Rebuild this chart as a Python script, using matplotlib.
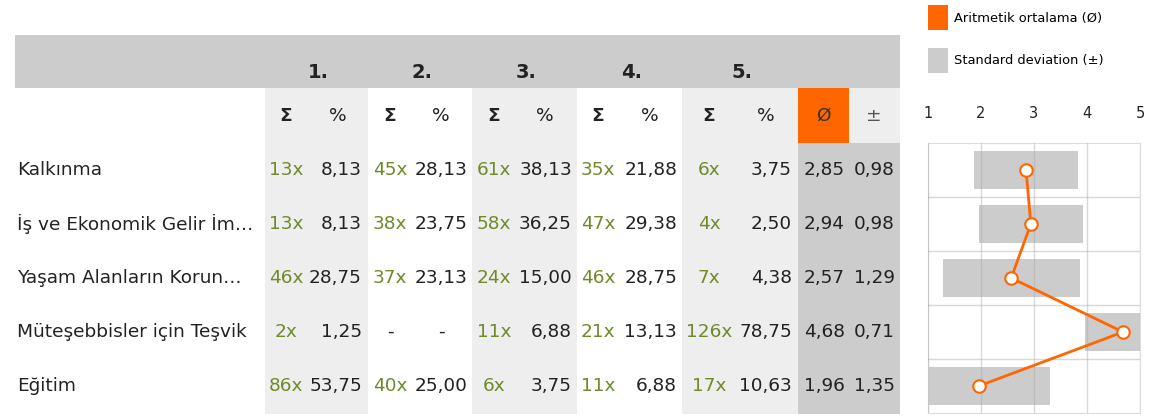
import matplotlib.pyplot as plt
from matplotlib.patches import Rectangle, Patch

# Data
categories = [
    "Kalkınma",
    "İş ve Ekonomik Gelir İm…",
    "Yaşam Alanların Korun…",
    "Müteşebbisler için Teşvik",
    "Eğitim",
]
ranks = ["1.", "2.", "3.", "4.", "5."]
counts = [
    [13, 45, 61, 35, 6],
    [13, 38, 58, 47, 4],
    [46, 37, 24, 46, 7],
    [2, None, 11, 21, 126],
    [86, 40, 6, 11, 17],
]
percents = [
    [8.13, 28.13, 38.13, 21.88, 3.75],
    [8.13, 23.75, 36.25, 29.38, 2.50],
    [28.75, 23.13, 15.00, 28.75, 4.38],
    [1.25, None, 6.88, 13.13, 78.75],
    [53.75, 25.00, 3.75, 6.88, 10.63],
]
means = [2.85, 2.94, 2.57, 4.68, 1.96]
stds = [0.98, 0.98, 1.29, 0.71, 1.35]
scale_ticks = [1, 2, 3, 4, 5]

ORANGE = "#ff6600"
GREEN = "#6f8a2a"
DARK = "#222222"
LIGHT = "#eeeeee"
MID = "#cccccc"

W, H = 1155, 419
fig = plt.figure(figsize=(W / 100, H / 100), dpi=100)
plt.rcParams["font.family"] = "DejaVu Sans"

# table drawn in pixel coordinates
tab = fig.add_axes([0, 0, 1, 1])
tab.set_xlim(0, W)
tab.set_ylim(H, 0)
tab.axis("off")

# layout (pixels)
grp_left = [265, 368, 472, 577, 682]
grp_right = [368, 472, 577, 682, 798]
sum_x = [286, 390, 494, 598, 709]
pct_hdr_x = [338, 441, 545, 650, 766]
pct_right = [362, 467, 572, 677, 792]
row_y0, row_h = 170, 54
table_bottom = 414
fs = 13.3

# header band
tab.add_patch(Rectangle((15, 35), 885, 53, color=MID, lw=0))
for g in range(5):
    cx = (grp_left[g] + grp_right[g]) / 2
    tab.text(cx + 2, 72, ranks[g], ha="center", va="center", fontsize=14,
             fontweight="bold", color=DARK)
    if g % 2 == 0:
        tab.add_patch(Rectangle((grp_left[g], 88), grp_right[g] - grp_left[g],
                                table_bottom - 88, color=LIGHT, lw=0))
    tab.text(sum_x[g], 116, "Σ", ha="center", va="center", fontsize=fs,
             fontweight="bold", color=DARK)
    tab.text(pct_hdr_x[g], 116, "%", ha="center", va="center", fontsize=fs,
             color=DARK)

# mean / std columns
tab.add_patch(Rectangle((798, 88), 51, 55, color=ORANGE, lw=0))
tab.add_patch(Rectangle((849, 88), 51, 55, color=LIGHT, lw=0))
tab.add_patch(Rectangle((798, 143), 102, table_bottom - 143, color=MID, lw=0))
tab.text(823, 116, "Ø", ha="center", va="center", fontsize=fs, color="#333333")
tab.text(874, 116, "±", ha="center", va="center", fontsize=fs, color="#555555")


def fmt(v):
    return f"{v:.2f}".replace(".", ",")


for i, name in enumerate(categories):
    y = row_y0 + i * row_h
    tab.text(17, y, name, ha="left", va="center", fontsize=fs, color=DARK)
    for g in range(5):
        c = counts[i][g]
        p = percents[i][g]
        if c is None:
            tab.text(sum_x[g], y, "-", ha="center", va="center", fontsize=fs, color=DARK)
            tab.text(pct_hdr_x[g], y, "-", ha="center", va="center", fontsize=fs, color=DARK)
            continue
        tab.text(sum_x[g], y, f"{c}x", ha="center", va="center", fontsize=fs, color=GREEN)
        tab.text(pct_right[g], y, fmt(p), ha="right", va="center", fontsize=fs, color=DARK)
    tab.text(845, y, fmt(means[i]), ha="right", va="center", fontsize=fs, color=DARK)
    tab.text(895, y, fmt(stds[i]), ha="right", va="center", fontsize=fs, color=DARK)

# right-hand chart
ax = fig.add_axes([928 / W, 1 - 413 / H, 212 / W, 270 / H])
rows = list(range(len(categories)))
lefts = [m - s for m, s in zip(means, stds)]
widths = [2 * s for s in stds]
ax.barh(rows, widths, left=lefts, height=0.7, color=MID, zorder=1)
ax.plot(means, rows, color=ORANGE, lw=2, marker="o", markersize=9,
        markerfacecolor="white", markeredgecolor=ORANGE, markeredgewidth=1.5, zorder=3)
ax.set_xlim(1, 5)
ax.set_ylim(len(categories) - 0.5, -0.5)
ax.set_xticks(scale_ticks)
ax.set_xticklabels([str(t) for t in scale_ticks])
ax.set_yticks([r + 0.5 for r in rows[:-1]])
ax.set_yticklabels([])
ax.xaxis.tick_top()
ax.tick_params(axis="x", length=0, pad=16, labelsize=10.5, colors=DARK)
ax.tick_params(axis="y", length=0)
ax.grid(True, color="#aaaaaa", alpha=0.45, lw=1, zorder=2)
ax.set_axisbelow(False)
for sp in ax.spines.values():
    sp.set_color("#dddddd")

# legend
handles = [Patch(facecolor=ORANGE, label="Aritmetik ortalama (Ø)"),
           Patch(facecolor=MID, label="Standard deviation (±)")]
fig.legend(handles=handles, loc="upper left", bbox_to_anchor=(923 / W, 1.0),
           frameon=False, fontsize=9.4, handlelength=1.55, handleheight=2.55,
           handletextpad=0.45, labelspacing=1.35, borderaxespad=0.0)

fig.savefig("out.png", dpi=100)
